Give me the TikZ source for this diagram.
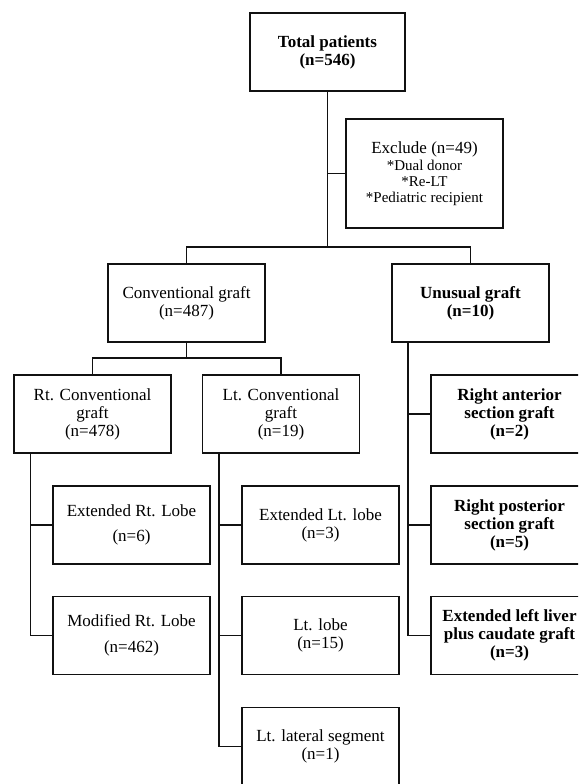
\documentclass[tikz,border=0pt]{standalone}
\usepackage{fontspec}
\setmainfont{Liberation Serif}
\usepackage{tikz}
\usepackage{xcolor}
\usetikzlibrary{positioning, calc}
\definecolor{darktext}{HTML}{111111}

\begin{document}
\begin{tikzpicture}[x=1pt, y=-1pt,
            box/.style={draw=darktext, line width=1.8pt, fill=white, minimum width=157pt, minimum height=78pt,
                inner sep=2pt, align=center, font=\fontsize{17}{18}\selectfont},
            bbox/.style={box, font=\bfseries\fontsize{17}{18}\selectfont},
            link/.style={draw=darktext, line width=1.2pt}]
            \useasboundingbox (0,0) rectangle (578,784);
            \clip (0,0) rectangle (578,784);
            \node[bbox, minimum width=155pt] (total) at (327.5,52) {Total patients\\(n=546)};
            \node[box, minimum height=109pt] (excl) at (424.5,173.5) {Exclude (n=49)\\[-1pt]
                {\fontsize{15}{15.5}\selectfont *Dual donor}\\[-2pt]
                {\fontsize{15}{15.5}\selectfont *Re-LT}\\[-2pt]
                {\fontsize{15}{15.5}\selectfont *Pediatric recipient}};
            \node[box] (conv) at (186.5,303) {Conventional graft\\(n=487)};
            \node[bbox] (unus) at (470.5,303) {Unusual graft\\(n=10)};
            \node[box] (rtconv) at (92.5,414) {Rt. Conventional\\graft\\(n=478)};
            \node[box] (ltconv) at (281,414) {Lt. Conventional\\graft\\(n=19)};
            \node[bbox] (rant) at (509.5,414) {Right anterior\\section graft\\(n=2)};
            \node[box] (extrt) at (131.5,525) {Extended Rt. Lobe\\[7pt](n=6)};
            \node[box] (extlt) at (320.5,525) {Extended Lt. lobe\\(n=3)};
            \node[bbox] (rpost) at (509.5,525) {Right posterior\\section graft\\(n=5)};
            \node[box] (modrt) at (131.5,635.5) {Modified Rt. Lobe\\[8pt](n=462)};
            \node[box] (ltlobe) at (320.5,635.5) {Lt. lobe\\(n=15)};
            \node[bbox] (extleft) at (509.5,635.5) {Extended left liver\\plus caudate graft\\(n=3)};
            \node[box] (ltlat) at (320.5,746.5) {Lt. lateral segment\\(n=1)};
            \coordinate (j1) at (327.5,247);
            \coordinate (j2) at (186.5,358);
            \coordinate (rtT) at (30.5,453);
            \coordinate (ltT) at (219,453);
            \coordinate (unT) at (408,342);
            \draw[link] (total) -- (j1);
            \draw[link] (excl.west) -- (excl.west -| total.south);
            \draw[link] (conv.north) |- (j1) -| (unus.north);
            \draw[link] (conv) -- (j2);
            \draw[link] (rtconv.north) |- (j2) -| (ltconv.north);
            \foreach \b in {extrt, modrt} {
                \draw[link] (rtT) |- (\b.west);
            }
            \foreach \b in {extlt, ltlobe, ltlat} {
                \draw[link] (ltT) |- (\b.west);
            }
            \foreach \b in {rant, rpost, extleft} {
                \draw[link] (unT) |- (\b.west);
            }
        \end{tikzpicture}
\end{document}
